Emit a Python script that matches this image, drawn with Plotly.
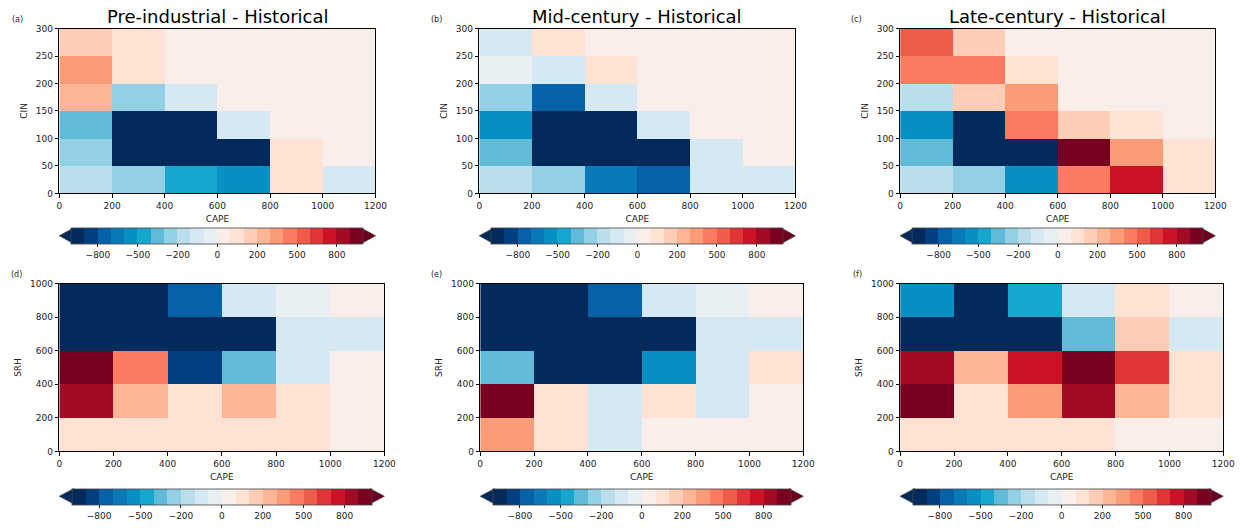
import numpy as np
import plotly.graph_objects as go

# ---------------- data ----------------
cape_edges = [0, 200, 400, 600, 800, 1000, 1200]
cin_edges = [0, 50, 100, 150, 200, 250, 300]
srh_edges = [0, 200, 400, 600, 800, 1000]

levels = [-1000, -900, -800, -700, -600, -500, -400, -300, -200, -100, -50, 0,
          50, 100, 200, 300, 400, 500, 600, 700, 800, 900, 1000]
cbar_ticks = [-800, -500, -200, 0, 200, 500, 800]
cbar_ticktext = ["\u2212800", "\u2212500", "\u2212200", "0", "200", "500", "800"]

bin_colors = ["#042a5c", "#023f7f", "#0561a8", "#0a79b8", "#0890c4", "#16a7cf",
              "#62bad9", "#93cfe5", "#badeeb", "#d6e9f2", "#e9f0f3", "#f9eee9",
              "#fee2d4", "#fdcdb6", "#fcb697", "#fb9c78", "#fa7b60", "#ef5c4b",
              "#df3536", "#cb1227", "#a30a23", "#7a001f"]
under_color = "#04295a"
over_color = "#6b001f"

titles = ["Pre-industrial - Historical", "Mid-century - Historical", "Late-century - Historical"]
panel_labels = ["(a)", "(b)", "(c)", "(d)", "(e)", "(f)"]

# rows listed from bottom (lowest bin) to top
cin_pre = [[-150, -250, -450, -550, 75, -75],
           [-250, -1300, -1500, -1200, 80, 20],
           [-350, -1400, -1250, -70, 30, 15],
           [250, -240, -60, 25, 20, 10],
           [350, 70, 30, 20, 15, 10],
           [150, 60, 25, 20, 15, 10]]
cin_mid = [[-150, -250, -650, -750, -75, -70],
           [-350, -1300, -1400, -1100, -80, 20],
           [-550, -1350, -1200, -70, 30, 15],
           [-250, -750, -65, 25, 20, 10],
           [-30, -75, 70, 20, 15, 10],
           [-80, 60, 25, 20, 15, 10]]
cin_late = [[-150, -250, -550, 450, 750, 80],
            [-350, -1300, -1200, 1100, 350, 70],
            [-550, -1400, 450, 150, 60, 20],
            [-150, 150, 350, 25, 20, 10],
            [450, 450, 70, 20, 15, 10],
            [550, 150, 25, 20, 15, 10]]
srh_pre = [[75, 70, 80, 75, 65, 20],
           [850, 250, 70, 250, 75, 20],
           [1050, 450, -850, -350, -75, 15],
           [-1300, -1400, -1200, -1100, -80, -70],
           [-1500, -1300, -750, -75, -30, 15]]
srh_mid = [[350, 70, -75, 20, 15, 10],
           [1100, 75, -70, 80, -80, 20],
           [-350, -1300, -1200, -550, -75, 70],
           [-1400, -1300, -1250, -1100, -75, -70],
           [-1500, -1300, -750, -75, -30, 15]]
srh_late = [[75, 70, 80, 75, 25, 20],
            [1050, 70, 350, 850, 250, 75],
            [850, 250, 750, 1100, 650, 70],
            [-1300, -1400, -1200, -350, 150, -75],
            [-550, -1300, -450, -75, 70, 20]]

# ---------------- layout geometry (pixels) ----------------
W, H = 1256, 528
def px(x): return x / W
def py(y): return 1 - y / H

panels = [
    dict(vals=cin_pre, yedges=cin_edges, ylab="CIN", x0=57, x1=377, y0=24, y1=192, cbtop=227.5, cbt=15.5),
    dict(vals=cin_mid, yedges=cin_edges, ylab="CIN", x0=482, x1=802, y0=24, y1=192, cbtop=227.5, cbt=15.5),
    dict(vals=cin_late, yedges=cin_edges, ylab="CIN", x0=908, x1=1227, y0=24, y1=192, cbtop=227.5, cbt=15.5),
    dict(vals=srh_pre, yedges=srh_edges, ylab="SRH", x0=57, x1=386, y0=284, y1=455, cbtop=493, cbt=15.5),
    dict(vals=srh_mid, yedges=srh_edges, ylab="SRH", x0=483, x1=810, y0=284, y1=455, cbtop=493, cbt=15.5),
    dict(vals=srh_late, yedges=srh_edges, ylab="SRH", x0=908, x1=1235, y0=284, y1=455, cbtop=493, cbt=15.5),
]
label_pos = [(15, 15), (439, 15), (864, 15), (14, 275), (439, 275), (865, 275)]

nb = len(bin_colors)
colorscale = []
for i, c in enumerate(bin_colors):
    colorscale.append([i / nb, c])
    colorscale.append([(i + 1) / nb, c])

tickvals = [levels.index(t) - 0.5 for t in cbar_ticks]

FONT = "DejaVu Sans"
fig = go.Figure()
shapes = []
annotations = []

for k, p in enumerate(panels):
    vals = np.array(p["vals"], dtype=float)
    idx = np.clip(np.digitize(vals, levels) - 1, 0, nb - 1)
    xa = "x" if k == 0 else f"x{k+1}"
    ya = "y" if k == 0 else f"y{k+1}"
    width = p["x1"] - p["x0"]
    cblen = 0.912 * width
    cx = (p["x0"] + p["x1"]) / 2
    fig.add_trace(go.Heatmap(
        x=cape_edges, y=p["yedges"], z=idx, customdata=vals,
        hovertemplate="CAPE %{x}<br>" + p["ylab"] + " %{y}<br>%{customdata}<extra></extra>",
        colorscale=colorscale, zmin=-0.5, zmax=nb - 0.5,
        xaxis=xa, yaxis=ya,
        colorbar=dict(orientation="h", x=px(cx), xanchor="center",
                      y=py(p["cbtop"]), yanchor="top", len=cblen, lenmode="pixels",
                      thickness=p["cbt"], thicknessmode="pixels", xpad=0, ypad=0,
                      outlinewidth=0.8, outlinecolor="#444",
                      tickmode="array", tickvals=tickvals, ticktext=cbar_ticktext,
                      ticks="outside", ticklen=3.5, tickwidth=0.8, tickcolor="#222",
                      tickfont=dict(size=9, color="#222", family=FONT)),
    ))
    axn = "" if k == 0 else str(k + 1)
    common = dict(showline=True, linecolor="black", linewidth=1, mirror=True,
                  ticks="outside", ticklen=3.5, tickwidth=0.8, tickcolor="black",
                  showgrid=False, zeroline=False,
                  tickfont=dict(size=9, color="#222", family=FONT))
    fig.layout["xaxis" + axn] = dict(domain=[px(p["x0"]), px(p["x1"])], anchor=ya,
                                     range=[0, 1200], tickmode="array", tickvals=cape_edges,
                                     title=dict(text="CAPE", font=dict(size=9, color="#222", family=FONT), standoff=6),
                                     **common)
    fig.layout["yaxis" + axn] = dict(domain=[py(p["y1"]), py(p["y0"])], anchor=xa,
                                     range=[p["yedges"][0], p["yedges"][-1]], tickmode="array",
                                     tickvals=p["yedges"],
                                     title=dict(text=p["ylab"], font=dict(size=9, color="#222", family=FONT), standoff=6),
                                     **common)
    # extension triangles for colorbar
    top = py(p["cbtop"])
    bot = py(p["cbtop"] + p["cbt"])
    mid = py(p["cbtop"] + p["cbt"] / 2)
    lx = px(cx - cblen / 2)
    rx = px(cx + cblen / 2)
    tipl = px(p["x0"])
    tipr = px(p["x1"])
    shapes.append(dict(type="path", xref="paper", yref="paper",
                       path=f"M {lx} {top} L {tipl} {mid} L {lx} {bot} Z",
                       fillcolor=under_color, line=dict(color="#444", width=0.8)))
    shapes.append(dict(type="path", xref="paper", yref="paper",
                       path=f"M {rx} {top} L {tipr} {mid} L {rx} {bot} Z",
                       fillcolor=over_color, line=dict(color="#444", width=0.8)))
    lxp, lyp = label_pos[k]
    annotations.append(dict(text=panel_labels[k], x=px(lxp), y=py(lyp), xref="paper", yref="paper",
                            showarrow=False, xanchor="center", yanchor="middle",
                            font=dict(size=8, color="#222", family=FONT)))
    if k < 3:
        annotations.append(dict(text=titles[k], x=px(cx), y=py(12), xref="paper", yref="paper",
                                showarrow=False, xanchor="center", yanchor="middle",
                                font=dict(size=18, color="black", family=FONT)))

fig.update_layout(width=W, height=H, margin=dict(l=0, r=0, t=0, b=0),
                  paper_bgcolor="white", plot_bgcolor="white",
                  shapes=shapes, annotations=annotations, showlegend=False,
                  font=dict(family=FONT))
fig.write_html("out.html")
